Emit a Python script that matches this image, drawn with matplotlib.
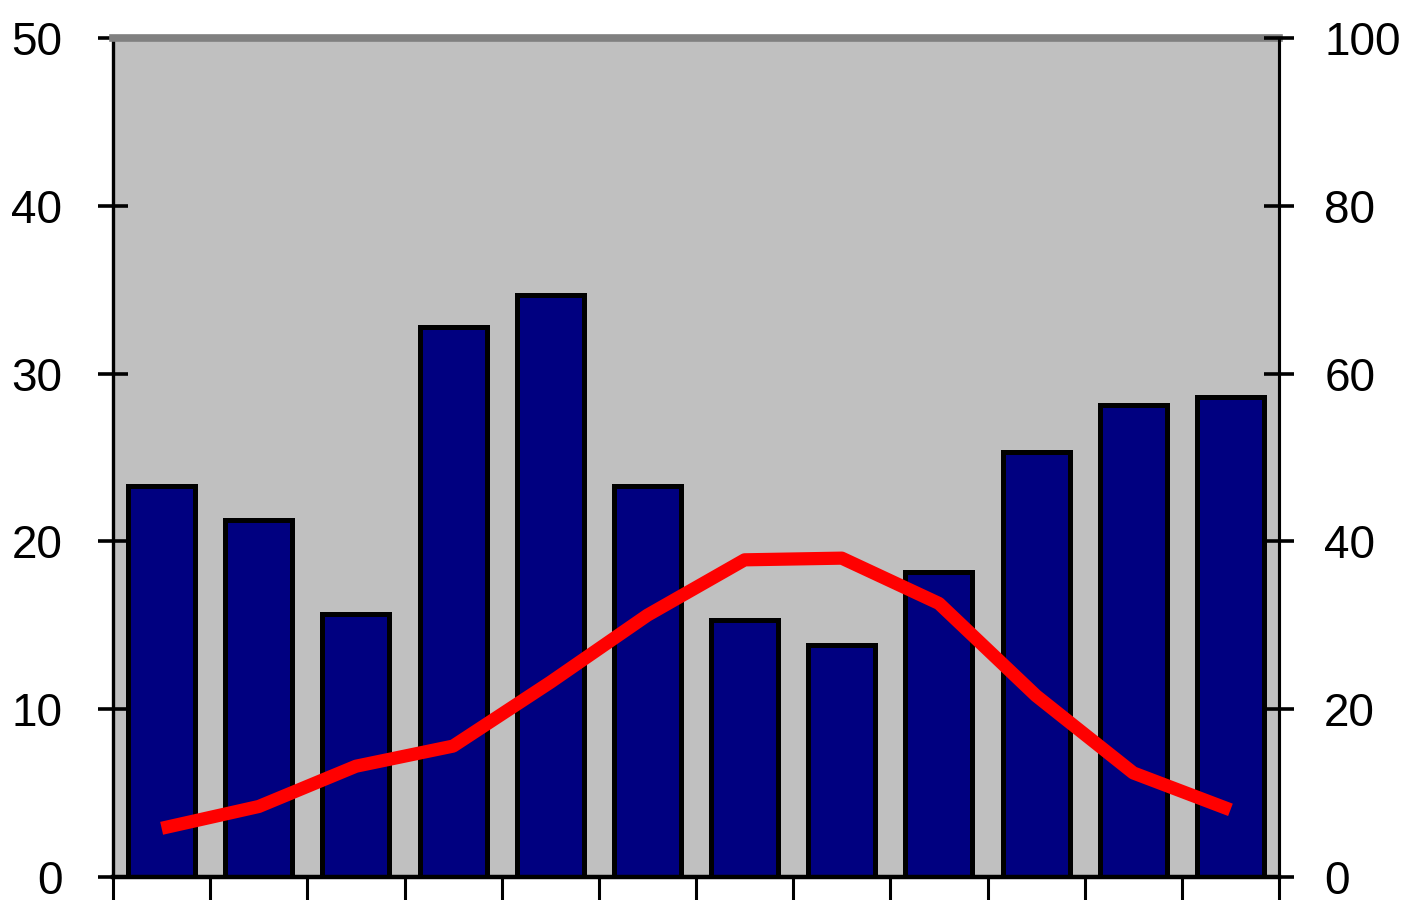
import numpy as np
from matplotlib import pyplot as plt
from matplotlib import font_manager

# monthly rainfall (bars) and temperature (line), left scale 0-50, right scale 0-100
months = np.arange(12)
rain = [23.3, 21.3, 15.7, 32.8, 34.7, 23.3, 15.3, 13.8, 18.2, 25.3, 28.1, 28.6]
temp = [2.9, 4.2, 6.6, 7.8, 11.6, 15.6, 18.9, 19.0, 16.3, 10.8, 6.2, 4.0]
left_ticks = [0, 10, 20, 30, 40, 50]
right_ticks = [0, 20, 40, 60, 80, 100]

# narrow face if there is one, else plain Liberation Sans a bit smaller
names = {f.name for f in font_manager.fontManager.ttflist}
if 'Liberation Sans Narrow' in names:
    family, size = 'Liberation Sans Narrow', 44
else:
    family, size = 'Liberation Sans', 33
plt.rcParams['font.family'] = [family, 'DejaVu Sans']

fig = plt.figure(figsize=(14.06, 9), dpi=100)
ax = fig.add_axes([0.0804, 0.0256, 0.8293, 0.9322])
ax.set_facecolor('#c0c0c0')

ax.bar(months, rain, width=0.69, color='#000080', edgecolor='black', linewidth=3.6, zorder=2)
ax.plot(months, temp, color='#ff0000', linewidth=9.5, solid_capstyle='butt',
        solid_joinstyle='round', zorder=3)

ax.set_xlim(-0.5, 11.5)
ax.set_ylim(0, 50)
ax.set_yticks(left_ticks)
ax.set_xticks(np.arange(-0.5, 12, 1))
ax.set_xticklabels([])
ax.tick_params(axis='x', direction='out', length=20, width=2.2, color='black')
ax.tick_params(axis='y', direction='inout', length=21, width=2.6, color='black',
               labelsize=size, pad=26)

for side in ('left', 'bottom'):
    ax.spines[side].set_color('black')
ax.spines['left'].set_linewidth(2.4)
ax.spines['bottom'].set_linewidth(3.2)
ax.spines['top'].set_color('#808080')
ax.spines['top'].set_linewidth(5.5)
ax.spines['right'].set_color('black')
ax.spines['right'].set_linewidth(2.2)

ax2 = ax.twinx()
ax2.set_ylim(0, 100)
ax2.set_yticks(right_ticks)
ax2.tick_params(axis='y', direction='inout', length=21, width=2.6, color='black',
                labelsize=size, pad=22)
for side in ('top', 'left', 'bottom'):
    ax2.spines[side].set_visible(False)
ax2.spines['right'].set_color('black')
ax2.spines['right'].set_linewidth(2.2)

fig.savefig('out.png', dpi=100)
